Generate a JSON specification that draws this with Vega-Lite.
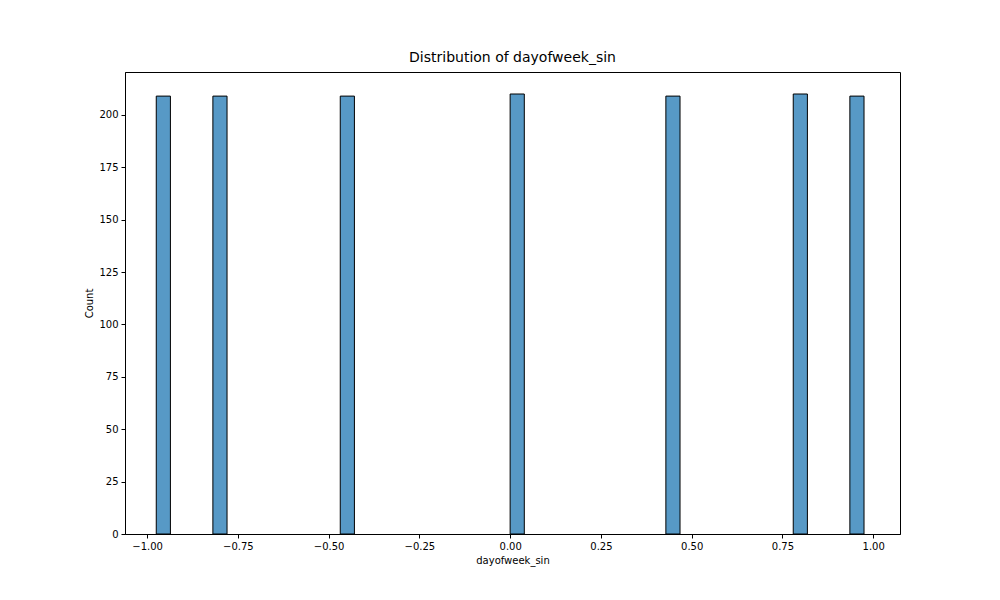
{
  "$schema": "https://vega.github.io/schema/vega-lite/v6.json",
  "width": 775,
  "height": 462,
  "autosize": "none",
  "padding": {"left": 125, "top": 72, "right": 100, "bottom": 66},
  "background": "white",
  "title": {"text": "Distribution of dayofweek_sin", "font": "DejaVu Sans", "fontSize": 14, "fontWeight": "normal", "offset": 7},
  "data": {
    "values": [
      {"bin_start": -0.9749, "bin_end": -0.9359, "count": 209},
      {"bin_start": -0.8189, "bin_end": -0.7799, "count": 209},
      {"bin_start": -0.4680, "bin_end": -0.4290, "count": 209},
      {"bin_start": 0.0, "bin_end": 0.0390, "count": 210},
      {"bin_start": 0.4290, "bin_end": 0.4680, "count": 209},
      {"bin_start": 0.7799, "bin_end": 0.8189, "count": 210},
      {"bin_start": 0.9359, "bin_end": 0.9749, "count": 209}
    ]
  },
  "mark": {"type": "rect", "fill": "#5799c6", "stroke": "black", "strokeWidth": 1},
  "encoding": {
    "x": {"field": "bin_start", "type": "quantitative", "scale": {"domain": [-1.061, 1.074], "nice": false, "zero": false},
      "axis": {"title": "dayofweek_sin", "values": [-1, -0.75, -0.5, -0.25, 0, 0.25, 0.5, 0.75, 1], "format": ".2f", "grid": false}},
    "x2": {"field": "bin_end"},
    "y": {"field": "count", "type": "quantitative", "scale": {"domain": [0, 220.5], "nice": false},
      "axis": {"title": "Count", "values": [0, 25, 50, 75, 100, 125, 150, 175, 200], "grid": false}},
    "y2": {"datum": 0}
  },
  "config": {
    "view": {"stroke": "black", "strokeWidth": 1},
    "axis": {"labelFont": "DejaVu Sans", "titleFont": "DejaVu Sans", "labelFontSize": 10, "titleFontSize": 10, "titleFontWeight": "normal", "labelColor": "black", "titleColor": "black", "tickColor": "black", "domainColor": "black", "tickSize": 4, "labelPadding": 3}
  }
}
